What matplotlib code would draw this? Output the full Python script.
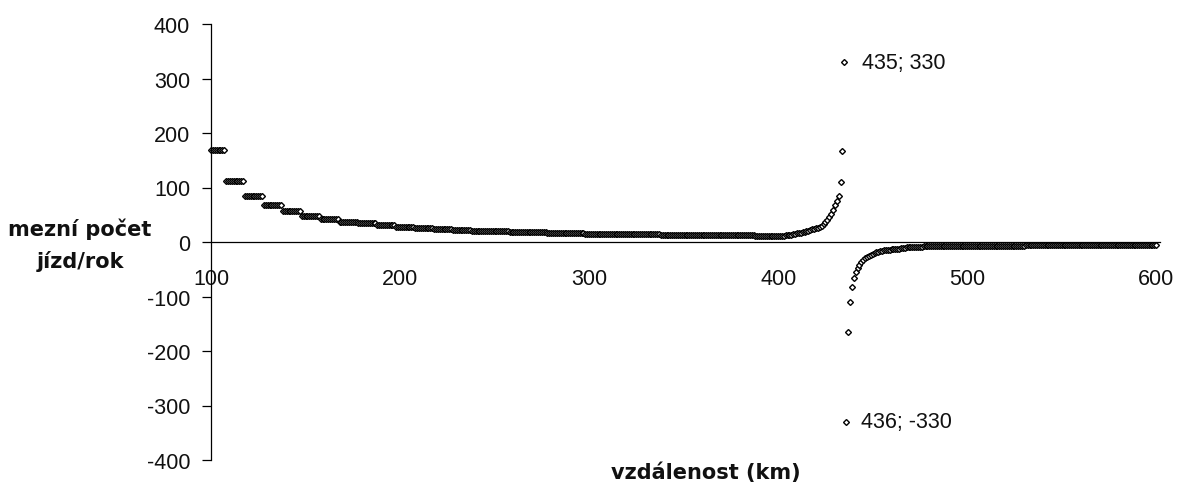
import numpy as np
import matplotlib.pyplot as plt

plt.rcParams['axes.unicode_minus'] = False

# stepped part: first km of each zone and its level
zone_start = [100, 108, 118, 128, 138, 148, 158, 168, 178, 188, 198, 208, 218, 228, 238,
              248, 258, 268, 278, 288, 298, 308, 318, 328, 338, 348, 358, 368, 378, 388]
zone_level = [168, 112, 84, 67, 56, 48, 42, 37, 34, 31, 28, 26, 24, 22, 21,
              20, 19, 18, 17, 16, 15.5, 15, 14.5, 14, 13.5, 13, 12.5, 12, 12, 11.5]
zone_end = 398

# rise towards the pole, km 398..435
rise_vals = [11, 11, 11, 11, 11, 11.5, 12, 12, 13, 13.5,
             14, 15, 16, 16.5, 17, 18, 19, 20, 21, 22,
             23, 24, 25, 26.5, 28, 30, 33, 37, 40, 45,
             52, 58, 67, 76, 85, 110, 167, 330]

# after the pole, km 436..480
drop_vals = [-330, -165, -110, -82, -66, -55, -47, -42, -37, -33,
             -30, -27, -25, -23, -22, -20, -19, -18, -17, -16,
             -15, -15, -14, -14, -13, -13, -12, -12, -12, -11,
             -11, -11, -10, -10, -10, -10, -9, -9, -9, -9,
             -9, -8, -8, -8, -8]

# tail, 10 km zones from 481 to 600
tail_level = [-7.5, -7, -7, -6.5, -6.5, -6, -6, -6, -5.5, -5.5, -5.5, -5.5]

x_ticks = [100, 200, 300, 400, 500, 600]
y_ticks = [-400, -300, -200, -100, 0, 100, 200, 300, 400]

lens = np.diff(zone_start + [zone_end])
y_steps = np.repeat(zone_level, lens)
y_tail = np.repeat(tail_level, 10)
y = np.concatenate([y_steps, rise_vals, drop_vals, y_tail])
x = np.arange(100, 100 + len(y))

fig = plt.figure(figsize=(11.78, 4.89), dpi=100)
ax = fig.add_axes([211 / 1178, 1 - 461 / 489, (1160 - 211) / 1178, (461 - 25) / 489])

ax.plot(x, y, ls='none', marker='D', ms=3.0, mfc='white', mec='black', mew=1.0,
        clip_on=False, antialiased=False)

ax.set_xlim(100, 602)
ax.set_ylim(-400, 400)
ax.set_xticks(x_ticks)
ax.set_yticks(y_ticks)

for s in ['top', 'right']:
    ax.spines[s].set_visible(False)
ax.spines['bottom'].set_position(('data', 0))
ax.spines['left'].set_linewidth(0.9)
ax.spines['bottom'].set_linewidth(0.9)

tick_font = dict(family='Liberation Sans', size=15.5)
ax.tick_params(axis='x', length=0, pad=19)
ax.tick_params(axis='y', direction='out', length=6.5, width=0.9, pad=8.5)
for lab in ax.get_xticklabels() + ax.get_yticklabels():
    lab.set_fontfamily('Liberation Sans')
    lab.set_fontsize(15.5)
    lab.set_color('#111111')

ax.annotate("435; 330", xy=(435, 330), xytext=(13, 0), textcoords='offset points',
            va='center', ha='left', color='#111111', **tick_font)
ax.annotate("436; -330", xy=(436, -330), xytext=(11, 0), textcoords='offset points',
            va='center', ha='left', color='#111111', **tick_font)

lab_font = dict(family='DejaVu Sans', weight='bold', size=15, color='#111111')
fig.text(80 / 1178, 1 - 229 / 489, "mezní počet", ha='center', va='center', **lab_font)
fig.text(80 / 1178, 1 - 262 / 489, "jízd/rok", ha='center', va='center', **lab_font)
fig.text(706 / 1178, 1 - 473 / 489, "vzdálenost (km)", ha='center', va='center', **lab_font)

fig.savefig('out.png', dpi=100)
